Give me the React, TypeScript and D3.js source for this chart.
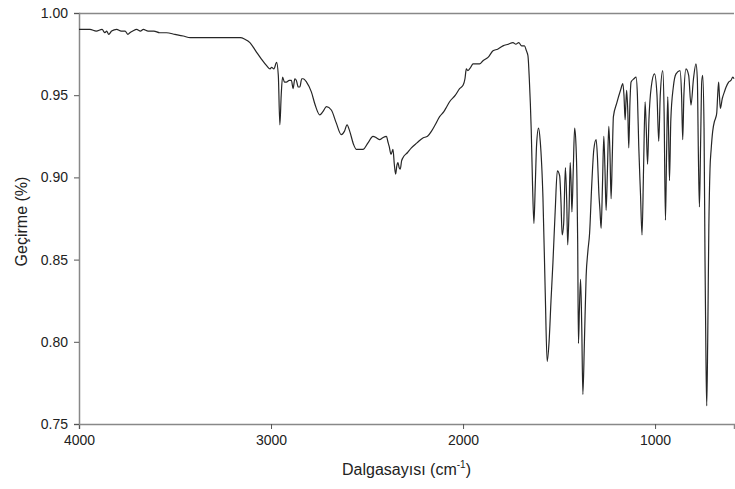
import { useEffect, useRef } from 'react'
import * as d3 from 'd3'

// IR spektrumu: dalga sayısı (cm-1) ve geçirgenlik değerleri
const wavenumber = [
  4000, 3970, 3943, 3910, 3880, 3865, 3856, 3845, 3830, 3804, 3780, 3760, 3745, 3735, 3720, 3700,
  3680, 3665, 3640, 3610, 3580, 3544, 3500, 3457, 3420, 3388, 3340, 3301, 3250, 3197, 3160, 3136,
  3110, 3080, 3050, 3023, 3005, 2997, 2985, 2971, 2962, 2954, 2947, 2940, 2930, 2920, 2905, 2894,
  2885, 2876, 2868, 2858, 2850, 2840, 2833, 2815, 2790, 2770, 2746, 2730, 2711, 2686, 2660, 2634,
  2618, 2604, 2590, 2570, 2555, 2521, 2495, 2469, 2450, 2434, 2420, 2399, 2392, 2385, 2375, 2365,
  2358, 2351, 2345, 2339, 2333, 2327, 2320, 2313, 2290, 2269, 2240, 2209, 2185, 2165, 2145, 2122,
  2100, 2085, 2070, 2040, 2018, 2000, 1990, 1983, 1975, 1960, 1948, 1930, 1914, 1896, 1870, 1844,
  1820, 1792, 1765, 1740, 1725, 1710, 1695, 1680, 1670, 1662, 1655, 1645, 1638, 1631, 1624, 1617,
  1607, 1598, 1584, 1572, 1562, 1552, 1542, 1532, 1520, 1509, 1497, 1490, 1484, 1476, 1467, 1460,
  1455, 1448, 1442, 1437, 1433, 1426, 1419, 1412, 1407, 1403, 1399, 1394, 1388, 1382, 1376, 1368,
  1359, 1350, 1341, 1330, 1319, 1307, 1300, 1293, 1287, 1281, 1274, 1267, 1261, 1255, 1248, 1241,
  1235, 1229, 1223, 1217, 1200, 1180, 1168, 1162, 1156, 1152, 1148, 1142, 1137, 1131, 1125, 1110,
  1099, 1092, 1085, 1076, 1068, 1060, 1052, 1046, 1039, 1032, 1020, 1003, 990, 981, 973, 960,
  953, 946, 940, 934, 930, 925, 918, 905, 891, 870, 862, 856, 850, 839, 825, 813,
  800, 787, 780, 774, 769, 763, 757, 752, 745, 740, 735, 731, 726, 720, 714, 708,
  700, 691, 685, 679, 674, 669, 665, 660, 650, 639, 630, 617, 605, 595, 589,
]
const transmittance = [
  0.990, 0.990, 0.990, 0.989, 0.990, 0.988, 0.989, 0.987, 0.989, 0.990, 0.989, 0.989, 0.987, 0.988, 0.989, 0.990,
  0.989, 0.990, 0.989, 0.989, 0.988, 0.988, 0.987, 0.986, 0.985, 0.985, 0.985, 0.985, 0.985, 0.985, 0.985, 0.984,
  0.982, 0.977, 0.972, 0.968, 0.966, 0.967, 0.966, 0.970, 0.962, 0.932, 0.950, 0.961, 0.958, 0.958, 0.959, 0.959,
  0.954, 0.960, 0.959, 0.955, 0.955, 0.960, 0.960, 0.958, 0.952, 0.944, 0.938, 0.940, 0.943, 0.941, 0.933, 0.926,
  0.928, 0.932, 0.928, 0.920, 0.917, 0.917, 0.921, 0.925, 0.924, 0.923, 0.924, 0.925, 0.922, 0.919, 0.914, 0.917,
  0.908, 0.902, 0.907, 0.909, 0.906, 0.905, 0.910, 0.912, 0.915, 0.918, 0.921, 0.924, 0.925, 0.928, 0.932, 0.937,
  0.940, 0.943, 0.946, 0.950, 0.954, 0.956, 0.960, 0.966, 0.965, 0.967, 0.969, 0.969, 0.969, 0.971, 0.973, 0.977,
  0.978, 0.980, 0.981, 0.982, 0.981, 0.982, 0.980, 0.980, 0.977, 0.974, 0.960, 0.929, 0.895, 0.872, 0.895, 0.920,
  0.930, 0.922, 0.888, 0.830, 0.788, 0.800, 0.825, 0.848, 0.880, 0.904, 0.901, 0.885, 0.865, 0.872, 0.906, 0.885,
  0.859, 0.880, 0.909, 0.895, 0.879, 0.905, 0.930, 0.920, 0.899, 0.860, 0.799, 0.820, 0.838, 0.810, 0.768, 0.800,
  0.840, 0.855, 0.866, 0.895, 0.917, 0.923, 0.912, 0.891, 0.880, 0.869, 0.895, 0.925, 0.905, 0.880, 0.905, 0.931,
  0.915, 0.887, 0.912, 0.937, 0.945, 0.953, 0.957, 0.950, 0.935, 0.945, 0.953, 0.940, 0.918, 0.945, 0.958, 0.960,
  0.961, 0.950, 0.919, 0.890, 0.865, 0.905, 0.946, 0.930, 0.908, 0.935, 0.955, 0.963, 0.950, 0.922, 0.950, 0.965,
  0.940, 0.874, 0.915, 0.949, 0.930, 0.898, 0.935, 0.955, 0.963, 0.965, 0.950, 0.923, 0.950, 0.966, 0.962, 0.944,
  0.960, 0.969, 0.960, 0.910, 0.882, 0.920, 0.958, 0.962, 0.930, 0.850, 0.790, 0.761, 0.800, 0.870, 0.905, 0.917,
  0.928, 0.934, 0.936, 0.939, 0.950, 0.958, 0.950, 0.942, 0.948, 0.952, 0.955, 0.958, 0.959, 0.961, 0.960,
]
const xTicks = [4000, 3000, 2000, 1000]
const yTicks = [0.75, 0.8, 0.85, 0.9, 0.95, 1.0]

const W = 735, H = 489
const M = { top: 13, right: 1, bottom: 65, left: 79 }
const FONT = 'Arial, "Liberation Sans", sans-serif'

export default function App() {
  const ref = useRef<SVGSVGElement>(null)

  useEffect(() => {
    document.body.style.margin = '0'
    const svg = d3.select(ref.current)
    svg.selectAll('*').remove()

    const iw = W - M.left - M.right
    const ih = H - M.top - M.bottom
    const x = d3.scaleLinear().domain([4000, 589]).range([0, iw])
    const y = d3.scaleLinear().domain([0.75, 1.0]).range([ih, 0])

    const g = svg.append('g').attr('transform', `translate(${M.left},${M.top})`)

    // üst çerçeve çizgisi
    g.append('line')
      .attr('x1', 0).attr('x2', iw).attr('y1', 0.5).attr('y2', 0.5)
      .attr('stroke', '#888').attr('stroke-width', 1.5)

    const styleAxis = (s: any) => {
      s.select('.domain').attr('stroke', '#888').attr('stroke-width', 1.5)
      s.selectAll('line').attr('stroke', '#555')
      s.selectAll('text').attr('fill', '#222').attr('font-size', 14).attr('font-family', FONT)
    }

    g.append('g')
      .attr('transform', `translate(0,${ih})`)
      .call(d3.axisBottom(x).tickValues(xTicks).tickFormat(d3.format('d')).tickSizeOuter(0).tickSize(5).tickPadding(6))
      .call(styleAxis)

    g.append('g')
      .call(d3.axisLeft(y).tickValues(yTicks).tickFormat(d3.format('.2f')).tickSizeOuter(0).tickSize(5).tickPadding(6))
      .call(styleAxis)

    const pts = wavenumber.map((w, i) => [w, transmittance[i]] as [number, number])
    const line = d3.line<[number, number]>().x(d => x(d[0])).y(d => y(d[1])).curve(d3.curveMonotoneX)
    g.append('path')
      .datum(pts)
      .attr('fill', 'none')
      .attr('stroke', '#262626')
      .attr('stroke-width', 1.2)
      .attr('stroke-linejoin', 'round')
      .attr('d', line)

    // eksen başlıkları
    const xt = svg.append('text')
      .attr('x', M.left + iw / 2).attr('y', 475)
      .attr('text-anchor', 'middle')
      .attr('font-family', FONT).attr('font-size', 16).attr('fill', '#222')
    xt.append('tspan').text('Dalgasayısı (cm')
    xt.append('tspan').attr('font-size', 10).attr('dy', -7).text('-1')
    xt.append('tspan').attr('dy', 7).text(')')

    svg.append('text')
      .attr('transform', `translate(27,${M.top + ih / 2 + 3}) rotate(-90)`)
      .attr('text-anchor', 'middle')
      .attr('font-family', FONT).attr('font-size', 16).attr('fill', '#222')
      .text('Geçirme (%)')
  }, [])

  return <svg ref={ref} width={W} height={H} style={{ display: 'block', background: '#fff' }} />
}
